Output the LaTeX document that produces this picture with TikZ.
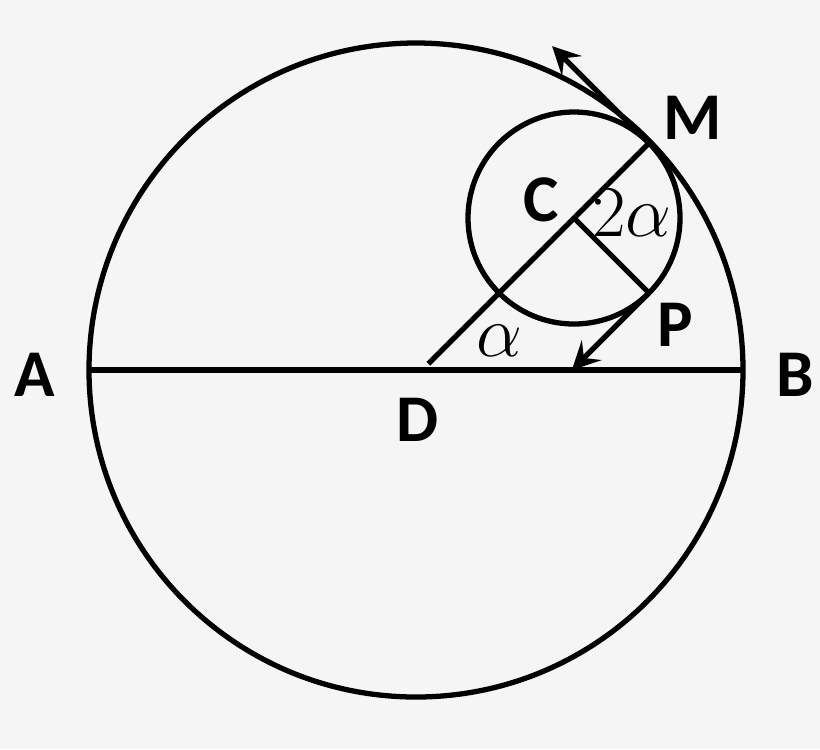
\documentclass[tikz,border=0pt]{standalone}
\usepackage{fontspec}
\setsansfont{Carlito}
\usetikzlibrary{calc}
\usetikzlibrary{arrows.meta}
\usetikzlibrary{positioning}

\begin{document}
\begin{tikzpicture}[line width=1.5pt, >={Stealth[length=2.8mm, width=2.8mm, inset=1.1mm]}, font=\sffamily\bfseries\fontsize{19}{22}\selectfont]
    \tikzstyle{lbl}=[inner sep=0pt]
    \tikzstyle{ang}=[inner sep=0pt, font=\normalfont\fontsize{19.5}{24}\selectfont]

    \path[use as bounding box, fill=black!4] (0,0) rectangle (8.2,7.49);

    %% Big circle
    \coordinate (O) at (4.16,3.79);
    \draw (O) circle (3.27);
    \coordinate (A) at ($(O)+(180:3.27)$);
    \coordinate (B) at ($(O)+(0:3.27)$);
    \draw (A) -- (B);

    %% Small circle
    \coordinate (C) at (5.74,5.31);
    \draw (C) circle (1.06);
    \coordinate (M) at ($(C)+(45:1.06)$);
    \coordinate (P) at ($(C)+(-45:1.06)$);
    \coordinate (Dl) at ($(C)+(225:2.06)$);
    \coordinate (Tm) at ($(M)+(135:1.37)$);
    \coordinate (Q) at ($(P)+(225:1.09)$);

    \draw (Dl) -- (M);
    \draw (C) -- (P);
    \draw[->] (M) -- (Tm);
    \draw[->] (P) -- (Q);

    %% Labels
    \node[lbl] (lA) at (0.35,3.74) {A};
    \node[lbl] (lB) at (7.95,3.74) {B};
    \node[lbl] (lD) at (4.18,3.29) {D};
    \node[lbl] (lC) at (5.41,5.49) {C};
    \node[lbl] (lM) at (6.93,6.31) {M};
    \node[lbl] (lP) at (6.75,4.24) {P};
    \node[ang] (a1) at (4.99,4.08) {$\alpha$};
    \node[ang] (a2) at (6.32,5.36) {$2\alpha$};
\end{tikzpicture}
\end{document}
